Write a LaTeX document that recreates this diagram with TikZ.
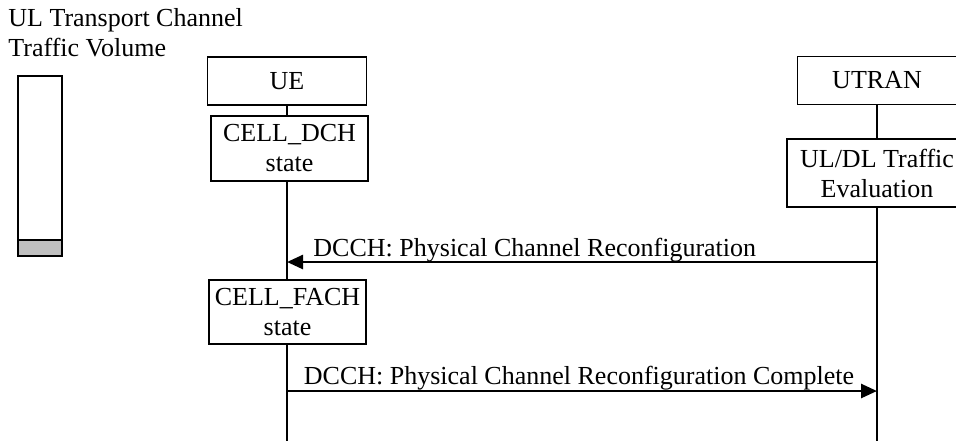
\documentclass[tikz,border=0pt]{standalone}
\usepackage{fontspec}
\setmainfont{Liberation Serif}
\usetikzlibrary{arrows.meta,positioning}

\begin{document}
\begin{tikzpicture}[
  x=0.5pt, y=-0.5pt,
  box/.style={draw, fill=white, line width=0.7pt, align=center, inner sep=1pt,
    font=\fontsize{13}{15}\selectfont},
  life/.style={line width=0.6pt},
  msg/.style={line width=1.3pt, -{Triangle[length=8pt,width=7pt]}},
  lbl/.style={font=\fontsize{13}{15}\selectfont, inner sep=1pt}
]
  \clip (0,0) rectangle (956,441);

  % traffic volume bar
  \node[lbl, anchor=north west, align=left, inner sep=0pt] (title) at (8,8)
      {UL Transport Channel\\Traffic Volume};
  \draw[box] (18,76) rectangle (62,256);
  \filldraw[box, fill=gray!50] (18,240) rectangle (62,256);

  % entities
  \node[box, minimum width=79.5pt, minimum height=24pt]   (ue)    at (287,81)  {UE};
  \node[box, minimum width=79.5pt, minimum height=24pt]   (utran) at (877,80.5) {UTRAN};
  \node[box, minimum width=78.5pt, minimum height=32.5pt] (dch)   at (289.5,148.5) {CELL\_DCH\\state};
  \node[box, minimum width=78.5pt, minimum height=32pt]   (fach)  at (287.5,312) {CELL\_FACH\\state};
  \node[box, minimum width=90pt, minimum height=34pt]     (eval)  at (877,173) {UL/DL Traffic\\Evaluation};

  \coordinate (ueEnd)    at (287,441);
  \coordinate (utranEnd) at (877,441);
  \coordinate (m1a) at (877,262);
  \coordinate (m1b) at (287,262);
  \coordinate (m2a) at (287,391);
  \coordinate (m2b) at (877,391);

  % lifelines
  \draw[life] (ue) -- (ue |- dch.north);
  \draw[life] (ue |- dch.south) -- (ue |- fach.north);
  \draw[life] (ue |- fach.south) -- (ueEnd);
  \draw[life] (utran) -- (eval);
  \draw[life] (eval) -- (utranEnd);

  % messages
  \draw[msg] (m1a) -- node[lbl, above, pos=0.58, yshift=-1.5pt] {DCCH: Physical Channel Reconfiguration} (m1b);
  \draw[msg] (m2a) -- node[lbl, above, pos=0.495, yshift=-1pt] {DCCH: Physical Channel Reconfiguration Complete} (m2b);
\end{tikzpicture}
\end{document}
